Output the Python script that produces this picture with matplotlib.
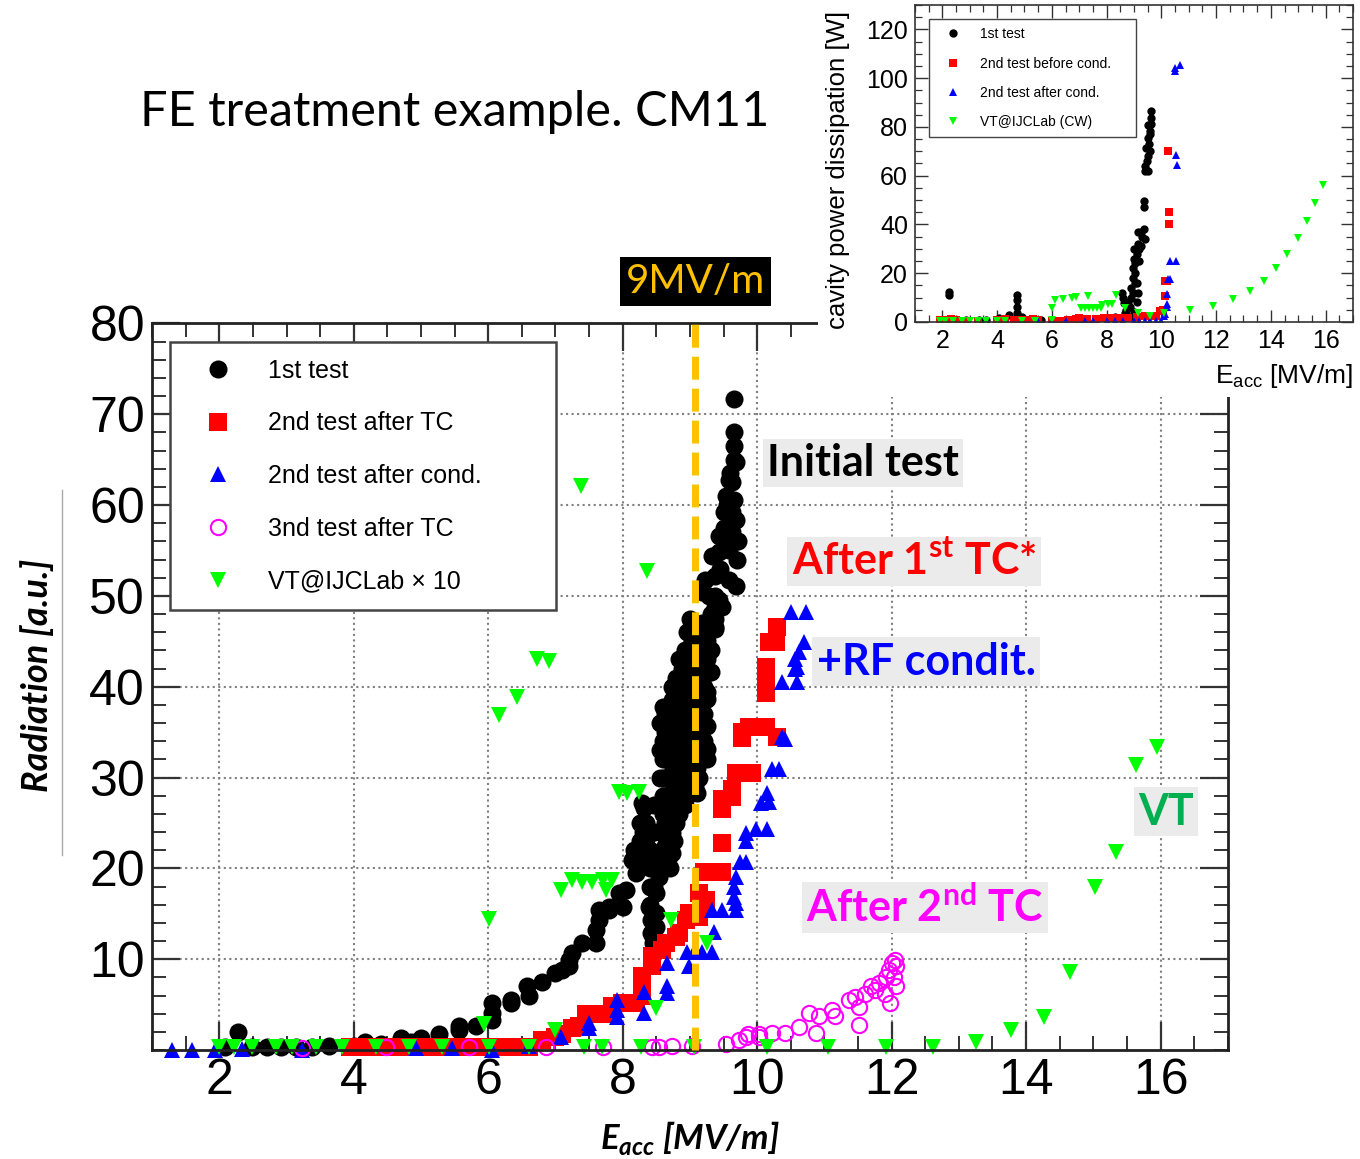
import matplotlib
matplotlib.use("Agg")
import matplotlib.pyplot as plt
from matplotlib.ticker import MultipleLocator
from matplotlib.patches import Rectangle
from matplotlib.lines import Line2D

plt.rcParams['mathtext.fontset'] = 'custom'
plt.rcParams['mathtext.rm'] = 'Lato'
plt.rcParams['mathtext.bf'] = 'Lato:bold'
plt.rcParams['mathtext.bfit'] = 'Lato:italic:bold'
plt.rcParams['mathtext.sf'] = 'Liberation Sans'

ROOT_FONT = ['Liberation Sans', 'DejaVu Sans']
TEXT_FONT = ['Lato', 'DejaVu Sans']

# ---- main plot: radiation vs Eacc ----
first_x = [2.09, 2.28, 2.49, 2.71, 2.92, 3.14, 3.38, 3.63, 4.0, 4.17, 4.41, 4.70, 4.85, 5.0, 5.27,
           5.57, 5.57, 5.82, 6.06, 6.06, 6.06, 6.34, 6.34, 6.58, 6.61, 6.80, 7.0, 7.1, 7.2, 7.25,
           7.2, 7.4, 7.6, 7.6, 7.65, 7.65, 7.8, 7.8, 7.94, 8.0, 8.05, 8.14, 8.17, 8.2, 8.29,
           8.34, 8.34, 8.32, 8.3,
           8.39, 8.42, 8.42, 8.45, 8.45, 8.49, 8.49, 8.5, 8.54, 8.54,
           8.6, 8.6, 8.6, 8.6, 8.6, 8.6, 8.6, 8.6, 8.6,
           8.67, 8.67, 8.67, 8.67, 8.67, 8.67, 8.67, 8.67, 8.67,
           8.73, 8.73, 8.73, 8.73, 8.73, 8.73, 8.73, 8.73, 8.73, 8.73,
           8.8, 8.8, 8.8, 8.8, 8.8, 8.8, 8.8, 8.8, 8.8,
           8.88, 8.88, 8.88, 8.88, 8.88, 8.88, 8.88, 8.88,
           8.95, 8.95, 8.95, 8.95, 8.95, 8.95, 8.95, 8.95, 8.95, 8.95,
           9.03, 9.03, 9.03, 9.03, 9.03, 9.03, 9.03, 9.03,
           9.1, 9.1, 9.1, 9.1, 9.1, 9.1, 9.1,
           9.18, 9.18, 9.18, 9.18, 9.18, 9.18,
           9.25, 9.25, 9.25, 9.25, 9.25, 9.25, 9.25, 9.25, 9.25,
           9.32, 9.32, 9.32, 9.32, 9.38, 9.38, 9.38,
           9.65, 9.65, 9.65, 9.68, 9.58, 9.62, 9.53, 9.65, 9.5, 9.62, 9.68, 9.43, 9.53, 9.62,
           9.33, 9.43, 9.58, 9.23, 9.38, 9.58, 9.68, 9.18, 9.28, 9.43, 9.48, 9.38, 9.38, 9.28,
           9.23, 9.23, 9.0, 9.05, 9.08,
           8.56, 8.56, 8.56, 8.56, 8.56,
           8.63, 8.63, 8.63, 8.63, 8.63, 8.63, 8.63,
           8.7, 8.7, 8.7, 8.7, 8.7, 8.7, 8.7, 8.7,
           8.77, 8.77, 8.77, 8.77, 8.77, 8.77, 8.77,
           8.84, 8.84, 8.84, 8.84, 8.84, 8.84, 8.84,
           8.92, 8.92, 8.92, 8.92, 8.92, 8.92, 8.92,
           9.0, 9.0, 9.0, 9.0, 9.0, 9.0, 9.0,
           9.07, 9.07, 9.07, 9.07, 9.07, 9.07, 9.07,
           9.14, 9.14, 9.14, 9.14, 9.14, 9.14,
           9.21, 9.21, 9.21, 9.21,
           8.4, 8.4, 8.4, 8.4, 8.25, 8.25, 8.25, 8.47, 8.47, 8.47, 8.47,
           9.45, 9.5, 9.55, 9.6, 9.7, 9.72, 9.66]
first_y = [0.3, 2.0, 0.3, 0.3, 0.3, 0.3, 0.3, 0.4, 0.5, 0.9, 0.7, 1.3, 0.9, 1.3, 1.8,
           2.2, 2.6, 2.6, 3.3, 4.1, 5.2, 5.5, 5.2, 7.0, 5.9, 7.5, 8.5, 8.8, 9.9, 10.7,
           9.2, 11.8, 11.8, 13.2, 14.3, 15.4, 15.4, 15.8, 17.3, 15.8, 17.6, 20.9, 22.0, 19.5, 27.2,
           25.0, 23.2, 26.7, 24.0,
           15.8, 14.3, 12.9, 11.8, 12.5, 13.6, 15.1, 17.3, 19.1, 20.9,
           22, 24, 26, 28, 30, 32, 34, 36, 37.8,
           21, 23.5, 26, 28, 30, 31.9, 33.7, 36.3, 37.8,
           21.7, 23.9, 26.1, 28.3, 30.5, 32.5, 34.5, 36.5, 38.5, 40,
           25, 27, 29, 31, 33, 35, 37, 39, 41,
           28, 30, 32, 34, 36, 38, 40, 42,
           28, 30, 32, 34, 36, 38, 40, 42, 44, 46,
           28.5, 31, 34, 37, 40, 43, 45, 47.1,
           28.3, 31, 34, 37, 40, 43, 46,
           32, 35.3, 38, 41, 44, 47,
           32, 33.1, 35.7, 38.6, 39.4, 41.5, 43, 43.5, 45,
           41.6, 44, 46.6, 48, 46.6, 48.8, 50,
           71.7, 68.0, 65.0, 64.7, 62.8, 62.5, 61.0, 60.6, 59.2, 59.2, 58.4, 56.6, 56.6, 57.0,
           54.4, 54.8, 55.1, 51.8, 52.2, 51.8, 51.1, 50.4, 50.0, 49.6, 48.8, 47.4, 46.3, 46.0,
           43.8, 41.6, 47.5, 45, 42,
           24, 27, 30, 33, 36,
           22.5, 25, 27.5, 30, 32.5, 35, 37,
           20, 22.5, 25, 27.5, 30, 32.5, 35, 37.5,
           23, 26, 29, 32, 35, 38, 40,
           26, 29, 32, 35, 38, 41, 43,
           27, 30, 33, 36, 39, 42, 44,
           29, 32, 35, 38, 41, 44, 46,
           29, 32.5, 35.5, 38.5, 41.5, 44.5, 47,
           30, 33, 36, 39, 42, 45,
           34, 37, 40, 42,
           16, 18, 20, 22, 21, 23, 25, 18, 21, 24, 27,
           53, 57.5, 60, 63.5, 54, 56, 66.5]

tc_x = [3.95, 4.12, 4.3, 4.5, 4.7, 4.9, 5.08, 5.22, 5.4, 5.6, 5.8, 6.0, 6.2, 6.4, 6.6,
        6.8, 7.0, 7.1, 7.25, 7.35, 7.45, 7.55, 7.65, 7.75, 7.84, 7.99, 8.09, 8.2, 8.29, 8.29,
        8.29, 8.43, 8.43, 8.58, 8.64, 8.79, 8.84, 8.94, 8.98, 9.13, 9.18, 9.24, 9.13, 9.18,
        9.09, 9.21, 9.48, 9.48, 9.48, 9.48, 9.62, 9.62, 9.68, 9.77, 9.93, 9.77, 9.77, 9.88,
        10.02, 10.13, 10.13, 10.13, 10.13, 10.17, 10.28, 10.29, 10.3]
tc_y = [0.3, 0.3, 0.3, 0.3, 0.3, 0.3, 0.3, 0.3, 0.3, 0.3, 0.3, 0.3, 0.3, 0.3, 0.3,
        1.1, 1.4, 1.8, 2.4, 2.6, 4.0, 4.0, 4.0, 4.0, 4.8, 5.2, 5.2, 5.2, 5.9, 7.0,
        8.1, 9.2, 10.3, 11.0, 11.8, 12.5, 12.9, 14.3, 15.1, 14.7, 15.8, 16.5, 17.3, 16.5,
        15.1, 19.6, 19.6, 22.8, 26.5, 27.6, 27.9, 28.7, 30.5, 30.5, 30.5, 34.4, 35.0, 35.6,
        35.6, 35.6, 39.3, 40.8, 42.2, 44.9, 44.9, 46.6, 34.5]

cond_x = [1.29, 1.6, 1.93, 2.34, 3.23, 4.93, 5.46, 6.06, 6.61, 7.08, 7.5, 7.5, 7.91, 7.91,
          7.91, 8.32, 8.32, 8.66, 8.66, 8.66, 8.96, 8.99, 9.06, 9.18, 9.33, 9.36, 9.33, 9.48,
          9.68, 9.68, 9.65, 9.65, 9.68, 9.75, 9.83, 9.83, 9.98, 10.15, 9.83, 10.05, 10.15, 10.17,
          10.22, 10.32, 10.37, 10.42, 10.37, 10.59, 10.59, 10.51, 10.72, 10.69, 10.62, 10.57,
          10.57]
cond_y = [0.0, 0.0, 0.0, 0.1, 0.0, 0.2, 0.2, 0.0, 0.4, 1.4, 2.4, 3.0, 5.5, 4.4,
          3.6, 6.4, 4.1, 9.6, 7.0, 6.3, 10.8, 9.2, 10.8, 10.8, 10.8, 13.0, 15.4, 15.4,
          15.4, 16.2, 18.0, 16.9, 19.1, 20.7, 20.7, 23.9, 24.3, 24.3, 23.0, 27.2, 28.3, 27.3,
          30.9, 30.9, 34.5, 34.2, 40.5, 40.5, 42.2, 48.2, 48.2, 44.9, 43.8, 43.0,
          41.9]

tc2_x = [3.23, 4.48, 5.71, 6.86, 7.7, 8.43, 8.54, 8.73, 9.03, 9.53, 9.73, 9.83, 9.87, 10.02,
         10.02, 10.22, 10.42, 10.62, 10.87, 10.77, 10.92, 11.11, 11.16, 11.36, 11.46, 11.51,
         11.61, 11.76, 11.81, 11.91, 11.9, 11.96, 12.0, 12.06, 12.03, 12.06, 11.51, 11.98,
         12.05, 11.7]
tc2_y = [0.2, 0.3, 0.3, 0.3, 0.3, 0.3, 0.3, 0.5, 0.5, 0.7, 1.1, 1.4, 1.8, 1.8,
         1.4, 1.9, 1.9, 2.5, 1.9, 4.1, 3.7, 4.4, 3.7, 5.5, 5.8, 4.7,
         6.2, 6.6, 7.4, 8.0, 6.2, 8.8, 9.6, 9.2, 8.0, 7.0, 2.8, 5.2,
         9.9, 7.0]

vt_x = [2.0, 2.22, 2.48, 2.85, 3.08, 3.44, 3.83, 4.33, 4.82, 5.31, 5.94, 6.01, 6.01, 6.16,
        6.43, 6.61, 6.73, 6.9, 7.0, 7.08, 7.25, 7.4, 7.42, 7.55, 7.7, 7.69, 7.75, 7.84, 7.38,
        7.94, 8.06, 8.24, 8.27, 8.36, 8.49, 8.72, 9.06, 9.25, 10.15, 11.06, 11.91, 12.62,
        13.26, 13.78, 14.26, 14.66, 15.03, 15.34, 15.64, 15.94]
vt_y = [0.3, 0.3, 0.3, 0.3, 0.3, 0.3, 0.3, 0.3, 0.3, 0.3, 2.9, 0.3, 14.4, 36.9,
        38.9, 0.3, 43.0, 42.8, 2.2, 17.6, 18.7, 18.5, 0.3, 18.5, 18.7, 0.3, 17.6, 18.7, 62.1,
        28.4, 28.3, 28.4, 0.3, 52.7, 4.6, 14.3, 0.3, 11.8, 0.3, 0.3, 0.3, 0.3,
        0.9, 2.2, 3.6, 8.6, 17.9, 21.8, 31.4, 33.4]

main_labels = ['1st test', '2nd test after TC', '2nd test after cond.',
               '3nd test after TC', 'VT@IJCLab \u00d7 10']

# ---- inset: cavity power dissipation ----
p1_x = [2.25, 2.25, 2.0, 2.4, 2.87, 3.35, 3.6, 4.07, 4.44, 4.73, 4.73, 4.73, 4.73, 4.9, 5.2,
        5.6, 6.5, 7.0, 7.6, 8.0, 8.3, 8.55, 8.62, 8.69, 8.6, 8.7,
        8.85, 8.85, 8.9, 8.9, 8.95, 8.95, 9.0, 9.0, 9.05, 9.05, 9.1, 9.1, 9.15, 9.15, 9.2,
        9.24, 9.27, 9.35, 9.42, 9.0, 9.1, 9.15,
        9.35, 9.35, 9.42, 9.42, 9.53, 9.45, 9.53, 9.6, 9.53, 9.64, 9.64, 9.5, 9.55, 9.58, 9.62,
        8.8, 8.95, 9.05, 9.2, 9.3, 9.6, 9.48]
p1_y = [12.4, 11.2, 0.5, 0.5, 0.8, 0.8, 1.0, 1.7, 2.9, 11.2, 9.1, 6.2, 3.7, 2.0, 1.0,
        0.8, 0.8, 1.0, 1.0, 1.5, 2.0, 12.0, 7.9, 3.7, 10, 5,
        2, 6, 10, 14, 18, 22, 26, 29.8, 20, 24, 28, 16, 32, 36.8, 30,
        31.0, 36.8, 38.1, 33.9, 4, 8, 12,
        49.7, 47.2, 64.1, 62.1, 62.1, 71.2, 75.3, 78.2, 80.7, 83.6, 86.5, 68, 73, 77, 81,
        8, 12, 16, 25, 35, 70, 66]

p2_x = [1.9, 2.1, 2.3, 2.5, 2.8, 3.3, 4.0, 4.3, 4.6, 4.8, 5.1, 5.3, 5.5, 6.0, 6.3, 6.6,
        6.9, 7.0, 7.3, 7.6, 7.9, 8.2, 8.5, 8.8, 9.1, 9.4, 9.6, 9.8, 9.95, 10.05, 10.14,
        10.14, 10.2, 10.28, 10.28, 10.25]
p2_y = [0.8, 0.8, 1.2, 0.8, 0.5, 0.5, 0.8, 1.2, 0.8, 0.8, 0.8, 1.2, 0.8, 0.5, 0.5, 0.8,
        1.2, 1.5, 1.2, 1.2, 1.5, 1.5, 1.5, 1.8, 2.0, 2.5, 2.5, 2.5, 4.5, 5.0, 10.5,
        16.6, 17.0, 45.0, 40.0, 70.2]

p3_x = [4.9, 5.5, 6.0, 6.5, 7.2, 7.5, 8.0, 8.3, 8.6, 9.0, 9.2, 9.4, 9.6, 9.8, 10.0, 10.1,
        10.15, 10.2, 10.2, 10.2, 10.25, 10.3, 10.32, 10.55, 10.55, 10.59, 10.5, 10.7, 10.5]
p3_y = [0.5, 0.5, 0.3, 0.5, 0.3, 0.5, 0.3, 0.3, 0.5, 0.3, 0.3, 0.5, 0.5, 0.5, 0.5, 2.5,
        3.4, 6.2, 7.5, 11.6, 17.8, 17.8, 24.8, 24.8, 68.3, 64.3, 104.3, 105.5, 103.0]

p4_x = [1.9, 2.1, 2.4, 2.7, 3.0, 3.3, 3.6, 4.0, 4.3, 4.9, 5.4, 6.0, 6.0, 6.13, 6.4, 6.73,
        6.87, 7.33, 8.34, 7.05, 7.2, 7.35, 7.5, 7.65, 7.8, 7.85, 8.04, 8.2, 8.69, 9.13, 9.6,
        10.1, 11.05, 11.9, 12.63, 13.24, 13.75, 14.19, 14.6, 15.0, 15.33, 15.6, 15.9]
p4_y = [0.3, 0.3, 0.3, 0.3, 0.3, 0.3, 0.3, 0.3, 0.3, 0.3, 0.3, 1.0, 5.7, 9.1, 9.5, 9.9,
        10.3, 10.5, 11.2, 5.7, 5.7, 5.7, 5.7, 5.7, 5.7, 7.0, 7.4, 7.4, 5.7, 3.7, 2.5,
        3.7, 4.8, 6.6, 9.4, 12.8, 16.9, 22.3, 28.0, 34.6, 41.3, 48.8, 56.0]

inset_labels = ['1st test', '2nd test before cond.', '2nd test after cond.', 'VT@IJCLab (CW)']

fig = plt.figure(figsize=(13.6, 11.59), dpi=100)
ax = fig.add_axes([0.1118, 0.094, 0.791, 0.627])
ax.set_zorder(1)

h1, = ax.plot(first_x, first_y, 'o', color='black', ms=13, mew=0, clip_on=False)
h2, = ax.plot(tc_x, tc_y, 's', color='#ff0000', ms=12.5, mew=0, clip_on=False)
h3, = ax.plot(cond_x, cond_y, '^', color='#0000ff', ms=12, mew=0, clip_on=False)
h4, = ax.plot(tc2_x, tc2_y, 'o', mfc='none', mec='#ff00ff', ms=11, mew=1.5, clip_on=False)
h5, = ax.plot(vt_x, vt_y, 'v', color='#00ff00', ms=11, mew=0, clip_on=False)

ax.plot([9.07, 9.07], [0, 80.6], color='#ffc000', lw=5, dashes=(3.3, 1.3), zorder=5,
        clip_on=False)

ax.set_xlim(1, 17)
ax.set_ylim(0, 80)
ax.set_xticks(range(2, 17, 2))
ax.set_yticks(range(10, 81, 10))
ax.xaxis.set_minor_locator(MultipleLocator(0.5))
ax.yaxis.set_minor_locator(MultipleLocator(2))
ax.tick_params(which='both', direction='in', top=True, right=True, color='#333333')
ax.tick_params(which='major', length=20, width=1.6)
ax.tick_params(which='minor', length=10, width=1.4)
ax.tick_params(axis='x', which='major', labelsize=36, pad=6)
ax.tick_params(axis='y', which='major', labelsize=36, pad=5)
for lab in ax.get_xticklabels() + ax.get_yticklabels():
    lab.set_family(ROOT_FONT)
for sp in ax.spines.values():
    sp.set_linewidth(2)
    sp.set_color('#222222')
ax.grid(True, which='major', ls=':', color='#808080', lw=1.5)
ax.set_axisbelow(True)

leg = ax.legend([h1, h2, h3, h4, h5], main_labels, loc='upper left',
                bbox_to_anchor=(0.0167, 0.605, 0.359, 0.369), mode='expand',
                prop={'family': ROOT_FONT, 'size': 18}, numpoints=1, fancybox=False,
                edgecolor='#444444', framealpha=1, borderpad=0.65, labelspacing=1.15,
                handletextpad=0.75, handlelength=2.5, borderaxespad=0)
leg.get_frame().set_linewidth(1.8)
leg.set_zorder(10)

ylab = ax.set_ylabel('Radiation [a.u.]', family=TEXT_FONT, fontsize=26,
                     fontweight='bold', style='italic')
ylab.set_va('center')
ax.yaxis.set_label_coords(-0.107, 0.516)
xlab = ax.set_xlabel(r'$\mathbfit{E}_{\mathbfit{acc}}$ [MV/m]', family=TEXT_FONT,
                     fontsize=25, fontweight='bold', style='italic')
xlab.set_va('center')
ax.xaxis.set_label_coords(0.5, -0.121)

# white panel behind the inset
fig.add_artist(Rectangle((0.6015, 0.6575), 0.3985, 0.3425, transform=fig.transFigure,
                         facecolor='white', edgecolor='none', zorder=2))

ax_in = fig.add_axes([0.6728, 0.7222, 0.322, 0.2735])
ax_in.set_zorder(3)
g1, = ax_in.plot(p1_x, p1_y, 'o', color='black', ms=6, mew=0)
g2, = ax_in.plot(p2_x, p2_y, 's', color='#ff0000', ms=6, mew=0)
g3, = ax_in.plot(p3_x, p3_y, '^', color='#0000ff', ms=6, mew=0)
g4, = ax_in.plot(p4_x, p4_y, 'v', color='#00ff00', ms=6, mew=0)
ax_in.set_xlim(1, 17)
ax_in.set_ylim(0, 130)
ax_in.set_xticks(range(2, 17, 2))
ax_in.set_yticks(range(0, 121, 20))
ax_in.xaxis.set_minor_locator(MultipleLocator(0.5))
ax_in.yaxis.set_minor_locator(MultipleLocator(5))
ax_in.tick_params(which='both', direction='in', top=True, right=True, color='#333333')
ax_in.tick_params(which='major', length=9, width=1.0, labelsize=18, pad=5)
ax_in.tick_params(which='minor', length=5, width=0.9)
for lab in ax_in.get_xticklabels() + ax_in.get_yticklabels():
    lab.set_family(ROOT_FONT)
for sp in ax_in.spines.values():
    sp.set_linewidth(1.2)
    sp.set_color('#333333')
leg2 = ax_in.legend([g1, g2, g3, g4], inset_labels, loc='upper left',
                    bbox_to_anchor=(0.032, 0.59, 0.4726, 0.366), mode='expand',
                    prop={'family': ROOT_FONT, 'size': 10}, numpoints=1, fancybox=False,
                    edgecolor='#444444', framealpha=1, borderpad=0.6, labelspacing=1.1,
                    handletextpad=0.8, handlelength=2.26, borderaxespad=0)
leg2.get_frame().set_linewidth(1.0)
iyl = ax_in.set_ylabel('cavity power dissipation [W]', family=ROOT_FONT, fontsize=18.5)
iyl.set_va('center')
ax_in.yaxis.set_label_coords(-0.176, 0.48)
ixl = ax_in.set_xlabel(r'E$_{\mathsf{acc}}$ [MV/m]', family=ROOT_FONT, fontsize=19,
                       loc='right')
ixl.set_va('center')
ax_in.xaxis.set_label_coords(1.0, -0.17)

# slide annotations
fig.text(0.103, 0.903, 'FE treatment example. CM11', family=TEXT_FONT, fontsize=35,
         va='center', ha='left')
fig.text(0.5114, 0.757, '9MV/m', family=TEXT_FONT, fontsize=29, color='#ffc000',
         ha='center', va='center', zorder=6,
         bbox=dict(boxstyle='square,pad=0.14', fc='black', ec='none'))

box = dict(boxstyle='square,pad=0.1', fc='#ebebeb', ec='none')
fig.text(0.6346, 0.6005, 'Initial test', family=TEXT_FONT, fontsize=31, fontweight='bold',
         color='black', ha='center', va='center', bbox=box, zorder=6)
fig.text(0.672, 0.5155, r'After 1$^{\mathbf{st}}$ TC*', family=TEXT_FONT, fontsize=31,
         fontweight='bold', color='#ff0000', ha='center', va='center', bbox=box, zorder=6)
fig.text(0.681, 0.4292, '+RF condit.', family=TEXT_FONT, fontsize=31, fontweight='bold',
         color='#0000ff', ha='center', va='center', bbox=box, zorder=6)
fig.text(0.8574, 0.2998, 'VT', family=TEXT_FONT, fontsize=31, fontweight='bold',
         color='#00b050', ha='center', va='center', bbox=box, zorder=6)
fig.text(0.680, 0.217, r'After 2$^{\mathbf{nd}}$ TC', family=TEXT_FONT, fontsize=31,
         fontweight='bold', color='#ff00ff', ha='center', va='center', bbox=box, zorder=6)

fig.add_artist(Line2D([0.0456, 0.0456], [1 - 855 / 1159, 1 - 490 / 1159],
                      transform=fig.transFigure, color='#aaaaaa', lw=1))

fig.savefig('out.png', dpi=100)
